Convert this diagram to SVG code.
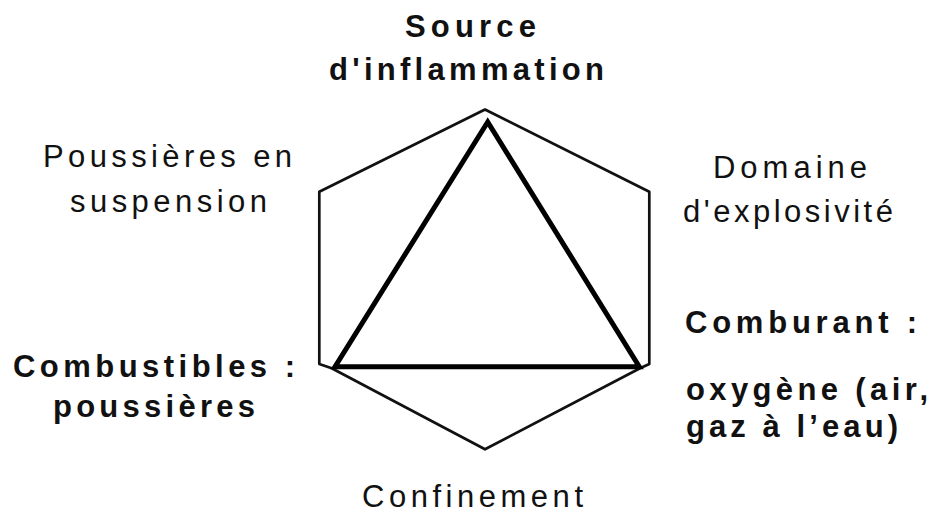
<svg xmlns="http://www.w3.org/2000/svg" width="931" height="513" viewBox="0 0 931 513">
  <style>
    .lbl { font-family: "Liberation Sans", Arial, sans-serif; font-size: 31px; fill: #111; }
    .b { font-weight: bold; }
    .hex { fill: none; stroke: #111; stroke-width: 2.7; stroke-linejoin: round; }
    .tri { fill: none; stroke: #000; stroke-width: 5; stroke-linejoin: miter; }
  </style>
  <rect width="931" height="513" fill="#fff"/>

  <!-- outer hexagon: the six conditions of a dust explosion -->
  <g id="hexagon">
    <polygon class="hex" points="485,109.5 649.3,191.7 649.3,364 640,368.3 485,449.3 331.7,368.3 319.3,364 319.3,191.7"/>
  </g>

  <!-- inner fire triangle -->
  <g id="triangle">
    <polygon class="tri" points="487.7,122 335,366.7 639.3,366.7"/>
  </g>

  <g id="source">
    <text class="lbl b" x="405" y="37" textLength="131" lengthAdjust="spacing">Source</text>
    <text class="lbl b" x="329" y="80" textLength="275" lengthAdjust="spacing">d'inflammation</text>
  </g>

  <g id="poussieres-suspension">
    <text class="lbl" x="43" y="167" textLength="249" lengthAdjust="spacing">Poussières en</text>
    <text class="lbl" x="70" y="212" textLength="197" lengthAdjust="spacing">suspension</text>
  </g>

  <g id="domaine">
    <text class="lbl" x="713" y="178" textLength="154" lengthAdjust="spacing">Domaine</text>
    <text class="lbl" x="683" y="222" textLength="210" lengthAdjust="spacing">d'explosivité</text>
  </g>

  <g id="combustibles">
    <text class="lbl b" x="13" y="377" textLength="282" lengthAdjust="spacing">Combustibles :</text>
    <text class="lbl b" x="53" y="417" textLength="202" lengthAdjust="spacing">poussières</text>
  </g>

  <g id="comburant">
    <text class="lbl b" x="685" y="333" textLength="232" lengthAdjust="spacing">Comburant :</text>
    <text class="lbl b" x="686" y="400" textLength="242" lengthAdjust="spacing">oxygène (air,</text>
    <text class="lbl b" x="686" y="437" textLength="212" lengthAdjust="spacing">gaz à l’eau)</text>
  </g>

  <g id="confinement">
    <text class="lbl" x="362" y="507" textLength="221" lengthAdjust="spacing">Confinement</text>
  </g>
</svg>
